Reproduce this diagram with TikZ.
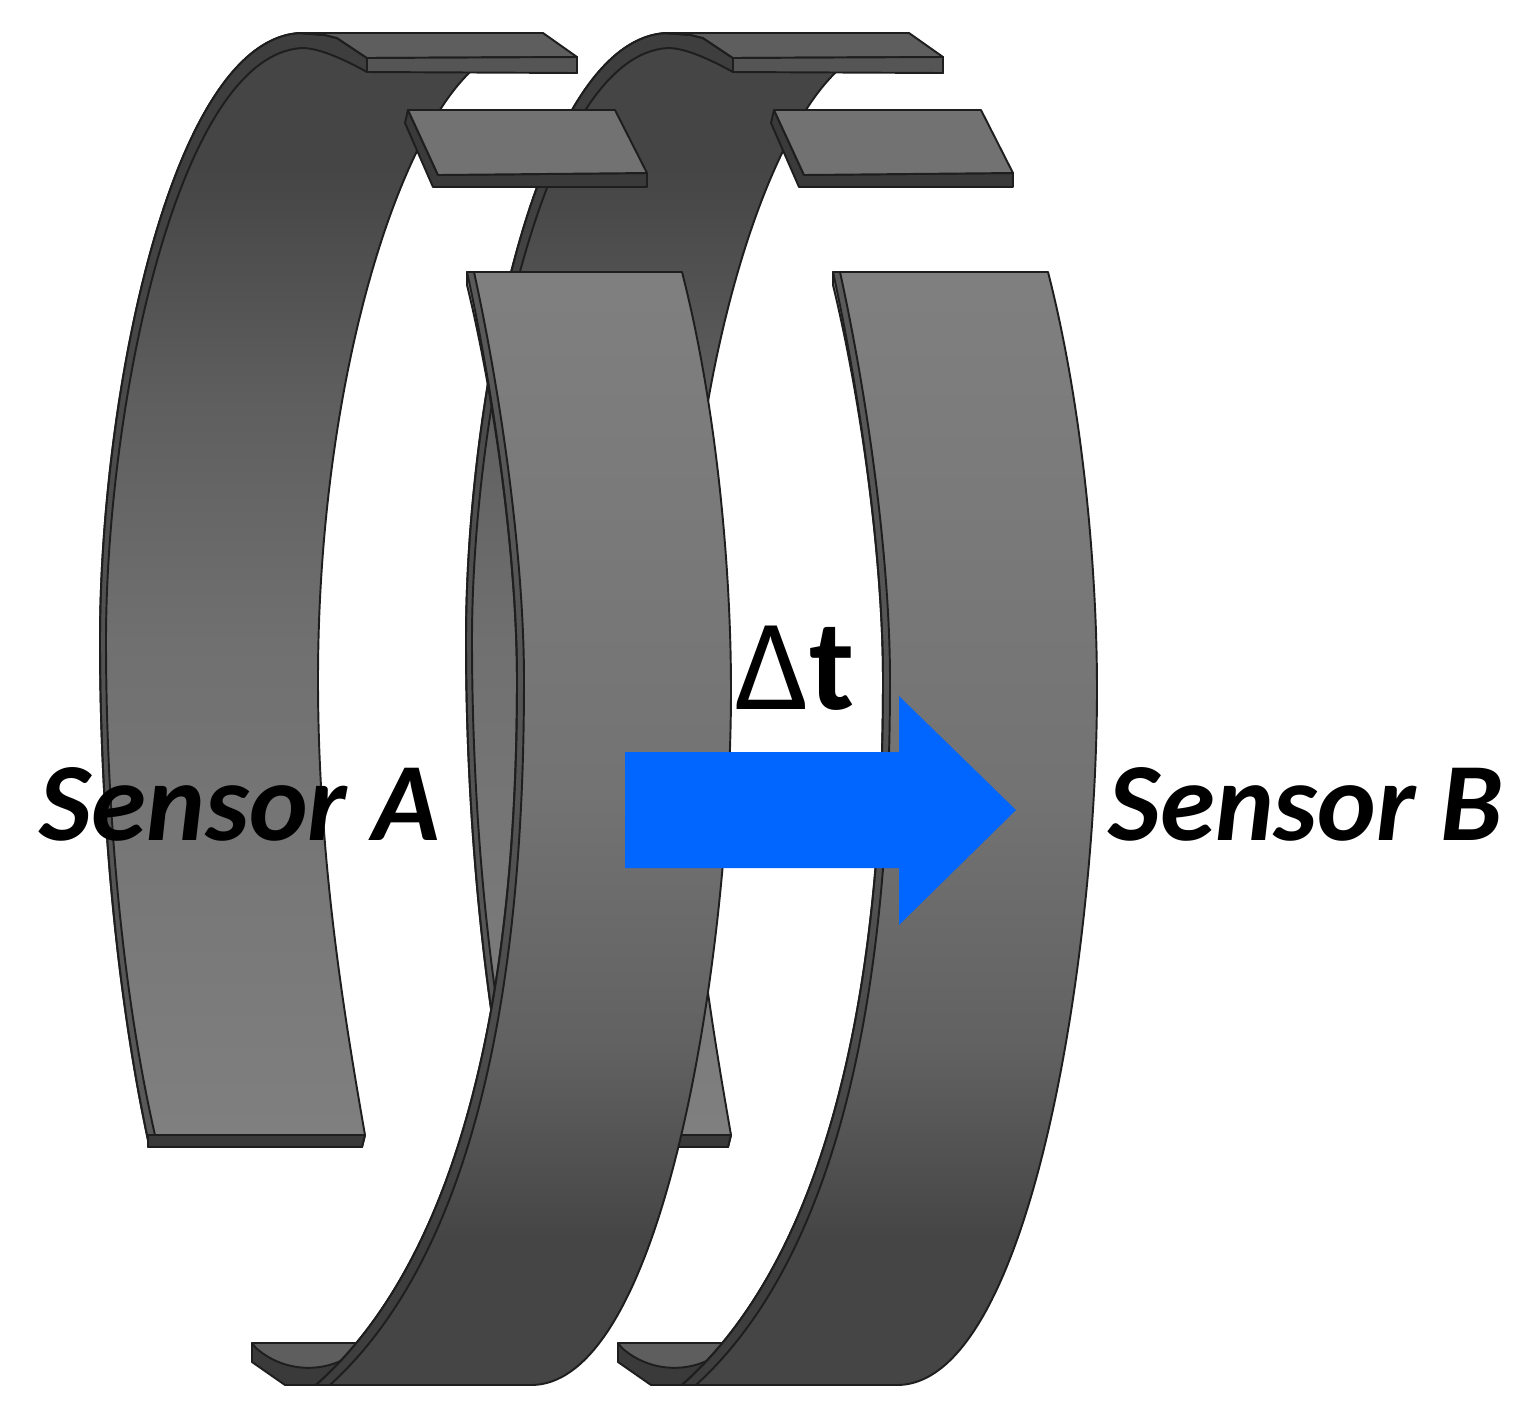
\documentclass[tikz,border=0pt]{standalone}
\usepackage{fontspec}
\setmainfont{Carlito}
\definecolor{edgegray}{HTML}{1E1E1E}
\definecolor{rimgray}{HTML}{3A3A3A}
\definecolor{tabdark}{HTML}{555555}
\definecolor{tabmid}{HTML}{5E5E5E}
\definecolor{tablight}{HTML}{727272}
\definecolor{arrowblue}{HTML}{0066FF}
\pgfdeclareverticalshading{backband}{100bp}{color(0bp)=(black!50); color(25bp)=(black!50); color(47.5bp)=(black!56); color(58.5bp)=(black!63); color(69bp)=(black!73); color(100bp)=(black!73)}
\pgfdeclareverticalshading{frontband}{100bp}{color(0bp)=(black!73); color(31.5bp)=(black!73); color(40bp)=(black!62); color(51.5bp)=(black!55); color(75bp)=(black!50); color(100bp)=(black!50)}
\tikzset{
  edge/.style={draw=edgegray, line width=0.55pt, line join=round},
  rimface/.style={edge, fill=rimgray, fill opacity=.55},
  sensorlabel/.style={font=\fontsize{31.7}{38}\selectfont\bfseries\itshape, inner sep=0pt},
}
\begin{document}
\begin{tikzpicture}[x=0.01cm, y=-0.01cm]
    \useasboundingbox (0,0) rectangle (1538,1405);
    % back halves of the two rings
    \foreach \dx in {0,366} {
      \begin{scope}[shift={(\dx,0)}]
        \draw[edge, shading=backband] (148,1147) -- (148,1140) .. controls (118,1000) and (100,820) .. (100,640)
          .. controls (100,400) and (170,40) .. (300,33) -- (325,35) -- (337,38) -- (367,58) -- (367,72) -- (470,72)
          .. controls (390,150) and (318,400) .. (318,680) .. controls (318,860) and (345,1020) .. (365,1135) -- (362,1147) -- cycle;
        \draw[rimface] (148,1140) .. controls (118,1000) and (100,820) .. (100,640)
          .. controls (100,400) and (170,40) .. (300,33) -- (325,35) -- (337,38) -- (367,58) -- (367,72)
          .. controls (345,60) and (320,48) .. (302,48) .. controls (177,55) and (106,410) .. (106,640)
          .. controls (106,820) and (124,1000) .. (155,1135) -- cycle;
        \draw[edge, fill=rimgray] (148,1135) -- (365,1135) -- (362,1147) -- (148,1147) -- cycle;
        % upper tab
        \draw[edge, fill=tabmid] (297,33) -- (543,33) -- (577,57) -- (367,58) -- (337,38) -- (325,35) -- cycle;
        \draw[edge, fill=tabdark] (367,58) -- (577,57) -- (577,73) -- (367,72) -- cycle;
      \end{scope}
    }
    % lower tabs sit in front of the neighbouring back half
    \foreach \dx in {0,366} {
      \begin{scope}[shift={(\dx,0)}]
        \draw[edge, fill=rimgray] (408,110) -- (438,175) -- (647,173) -- (647,187) -- (433,187) -- (405,123) -- cycle;
        \draw[edge, fill=tablight] (408,110) -- (615,110) -- (647,173) -- (438,175) -- cycle;
      \end{scope}
    }
    % front halves
    \foreach \dx in {0,366} {
      \begin{scope}[shift={(\dx,0)}]
        \draw[edge, fill=rimgray] (252,1343) -- (363,1343) -- (316,1385) -- (285,1385) -- (252,1362) -- cycle;
        \draw[edge, fill=tabmid] (252,1343) -- (365,1343) .. controls (340,1372) and (290,1378) .. (256,1348) -- cycle;
        \draw[edge, shading=frontband] (467,272) -- (682,272) .. controls (715,400) and (731,560) .. (731,690)
          .. controls (731,950) and (665,1385) .. (531,1385) -- (316,1385)
          .. controls (490,1230) and (517,900) .. (517,680) .. controls (517,560) and (495,400) .. (467,285) -- cycle;
        \draw[rimface] (467,272) .. controls (495,400) and (517,560) .. (517,680) .. controls (517,900) and (490,1230) .. (316,1385)
          -- (330,1385) .. controls (500,1230) and (524,900) .. (524,680) .. controls (524,560) and (502,400) .. (474,272) -- cycle;
      \end{scope}
    }
    % travel arrow
    \coordinate (T1) at (625,752); \coordinate (T2) at (899,752); \coordinate (H1) at (899,696);
    \coordinate (P) at (1016,810); \coordinate (H2) at (899,925); \coordinate (T3) at (899,868); \coordinate (T4) at (625,868);
    \fill[arrowblue] (T1) -- (T2) -- (H1) -- (P) -- (H2) -- (T3) -- (T4) -- cycle;
    \node[sensorlabel] (labelA) at (240,804) {Sensor A};
    \node[sensorlabel] (labelB) at (1306,804) {Sensor B};
    \node[inner sep=0pt, font=\fontsize{37}{44}\selectfont] (labeldt) at (795,668) {Δ\textbf{t}};
\end{tikzpicture}
\end{document}
